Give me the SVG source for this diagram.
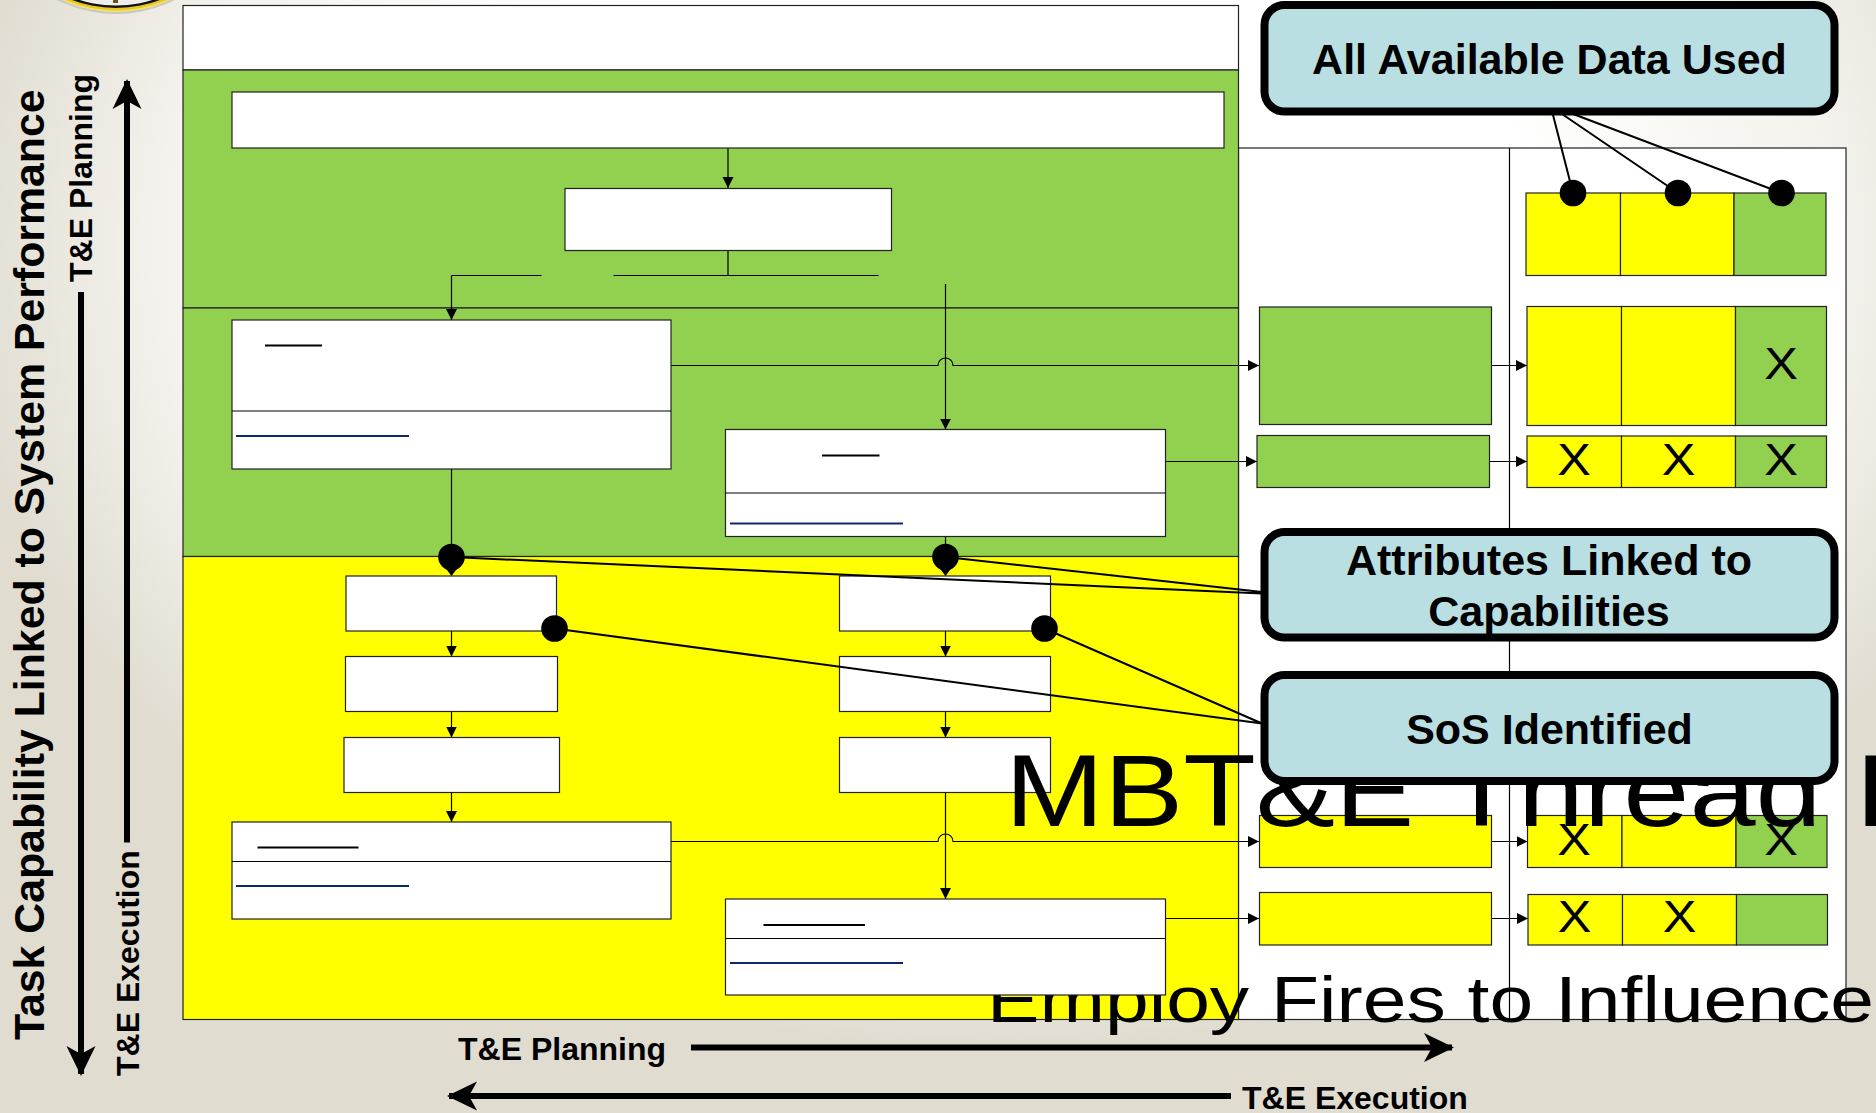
<svg xmlns="http://www.w3.org/2000/svg" width="1876" height="1113" viewBox="0 0 1876 1113">
<style>
.t{font-family:"Liberation Sans",Arial,sans-serif}
.b{font-weight:700;fill:#000}
.c{font-size:43px;text-anchor:middle}
.s{font-size:32px}
.big{font-weight:400;fill:#000}
.x{font-family:"Liberation Sans",Arial,sans-serif;font-size:45px;text-anchor:middle;fill:#000}
.w{fill:#fff;stroke:#222;stroke-width:1.2}
.g{fill:#92D050;stroke:#222;stroke-width:1.2}
.y{fill:#FF0;stroke:#222;stroke-width:1.2}
.l{fill:none;stroke:#000;stroke-width:1.2}
.a{fill:none;stroke:#000;stroke-width:1.2;marker-end:url(#tri)}
.u{stroke:#000;stroke-width:2}
.n{stroke:#0B2A6B;stroke-width:2}
.co{fill:#B9DFE2;stroke:#000;stroke-width:8}
.cl{stroke:#000;stroke-width:2;fill:none}
.th{fill:none;stroke:#000;stroke-width:6}
.dot{fill:#000}
</style>
<defs>
<radialGradient id="bg" gradientUnits="userSpaceOnUse" cx="0" cy="0" r="1" gradientTransform="translate(1000 250) scale(1050 800)">
<stop offset="0.5" stop-color="#fff"/>
<stop offset="0.8" stop-color="#f3f2ec"/>
<stop offset="1" stop-color="#e0dcd0"/>
</radialGradient>
<marker id="tri" markerUnits="userSpaceOnUse" markerWidth="11" markerHeight="12" refX="11" refY="6" orient="auto"><path d="M0 0.5L11 6L0 11.5Z" fill="#000"/></marker>
<marker id="st" markerUnits="userSpaceOnUse" markerWidth="32" markerHeight="32" refX="28" refY="15" orient="auto"><path d="M0 0.5L30 15L0 29.5L8 15Z" fill="#000"/></marker>
</defs>
<rect width="1876" height="1113" fill="url(#bg)"/>
<g id="seal">
<circle cx="116" cy="-117" r="131" fill="#c9c8c2"/>
<circle cx="116" cy="-117" r="129" fill="#f3e27a"/>
<circle cx="116" cy="-117" r="127.5" fill="#e8c91c"/>
<circle cx="116" cy="-117" r="125" fill="#111"/>
<circle cx="116" cy="-117" r="122.5" fill="#eee"/>
<rect x="113" y="0" width="5" height="3" fill="#6a5210"/>
</g>
<g id="bands">
<rect class="w" x="183" y="5.500" width="1055.500" height="64.500"/>
<rect x="1238.500" y="148" width="607.500" height="871.500" class="w"/>
<line class="l" x1="1509.500" y1="148" x2="1509.500" y2="1019.500"/>
<rect class="g" x="183" y="70" width="1055.500" height="238"/>
<rect class="g" x="183" y="308" width="1055.500" height="248.500"/>
<rect class="y" x="183" y="556.500" width="1055.500" height="463"/>
</g>
<text id="subtitle" class="t big" font-size="65" transform="translate(987 1022) scale(1.21 1)">Employ Fires to Influence</text>
<g id="connectors">
<line class="a" x1="728" y1="147.500" x2="728" y2="188"/>
<path class="l" d="M728 250.500V275.500M613.500 275.500H878.500M541.500 275.500H451.500"/>
<path class="a" d="M451.500 275.500V320"/>
<path class="l" d="M451.500 469V545"/>
<path class="a" d="M945.500 284V429.500"/>
<path class="l" d="M945.500 536.500V545"/>
<path class="a" d="M671 365.500H938a7.500 7.500 0 0 1 15 0H1259"/>
<line class="a" x1="1165.500" y1="461.500" x2="1257" y2="461.500"/>
<line class="a" x1="1491.500" y1="365.500" x2="1527" y2="365.500"/>
<line class="a" x1="1489.500" y1="461.500" x2="1527" y2="461.500"/>
<line class="a" x1="451.500" y1="631" x2="451.500" y2="656.500"/>
<line class="a" x1="451.500" y1="711.500" x2="451.500" y2="737.500"/>
<line class="a" x1="451.500" y1="792.500" x2="451.500" y2="822"/>
<line class="a" x1="945.500" y1="631" x2="945.500" y2="656.500"/>
<line class="a" x1="945.500" y1="711.500" x2="945.500" y2="737.500"/>
<path class="a" d="M945.500 792.500V899"/>
<path class="a" d="M671 841.500H938a7.500 7.500 0 0 1 15 0H1259"/>
<line class="a" x1="1165.500" y1="918.500" x2="1259" y2="918.500"/>
<line class="a" x1="1491.500" y1="841.500" x2="1527.500" y2="841.500"/>
<line class="a" x1="1491.500" y1="918.500" x2="1528" y2="918.500"/>
</g>
<g id="n-top"><rect class="w" x="232" y="92" width="992" height="56"/></g>
<g id="n-mid"><rect class="w" x="565" y="188.500" width="326.500" height="62"/></g>
<g id="n-c1"><rect class="w" x="232" y="320" width="439" height="149"/><line class="l" x1="232" y1="411" x2="671" y2="411" stroke-width="2"/><line class="u" x1="265" y1="345.500" x2="322" y2="345.500"/><line class="n" x1="236" y1="436" x2="409" y2="436"/></g>
<g id="n-c2"><rect class="w" x="725.500" y="429.500" width="440" height="107"/><line class="l" x1="725.500" y1="493" x2="1165.500" y2="493"/><line class="u" x1="822" y1="455.500" x2="879.500" y2="455.500"/><line class="n" x1="730" y1="523.500" x2="903" y2="523.500"/></g>
<g id="n-l1"><rect class="w" x="346" y="576" width="210.500" height="55"/></g>
<g id="n-l2"><rect class="w" x="345.500" y="656.500" width="212" height="55"/></g>
<g id="n-l3"><rect class="w" x="344" y="737.500" width="215.500" height="55"/></g>
<g id="n-r1"><rect class="w" x="839.500" y="576" width="211" height="55"/></g>
<g id="n-r2"><rect class="w" x="839.500" y="656.500" width="211" height="55"/></g>
<g id="n-r3"><rect class="w" x="839.500" y="737.500" width="211" height="55"/></g>
<g id="n-d1"><rect class="w" x="232" y="822" width="439" height="97"/><line class="l" x1="232" y1="861.500" x2="671" y2="861.500"/><line class="u" x1="257.500" y1="847.500" x2="358.500" y2="847.500"/><line class="n" x1="236" y1="886" x2="409" y2="886"/></g>
<g id="n-d2"><rect class="w" x="725.500" y="899" width="440" height="96"/><line class="l" x1="725.500" y1="938.500" x2="1165.500" y2="938.500"/><line class="u" x1="763.500" y1="925" x2="865" y2="925"/><line class="n" x1="730" y1="963" x2="903" y2="963"/></g>
<g id="n-g1"><rect class="g" x="1259.500" y="307" width="232" height="117.500"/></g>
<g id="n-g2"><rect class="g" x="1257" y="435.500" width="232.500" height="52"/></g>
<g id="n-y1"><rect class="y" x="1259.500" y="815.500" width="232" height="52"/></g>
<g id="n-y2"><rect class="y" x="1259.500" y="892.500" width="232" height="52.500"/></g>
<g id="row-1"><rect class="y" x="1526" y="193" width="94.500" height="82.500"/><rect class="y" x="1620.500" y="193" width="113.500" height="82.500"/><rect class="g" x="1734" y="193" width="92" height="82.500"/></g>
<g id="row-2"><rect class="y" x="1527" y="306.500" width="94.500" height="119"/><rect class="y" x="1621.500" y="306.500" width="114" height="119"/><rect class="g" x="1735.500" y="306.500" width="91" height="119"/><text class="x" transform="translate(1781 378.500) scale(1.12 1)">X</text></g>
<g id="row-3"><rect class="y" x="1527" y="436" width="94.500" height="51.500"/><rect class="y" x="1621.500" y="436" width="114" height="51.500"/><rect class="g" x="1735.500" y="436" width="91" height="51.500"/><text class="x" transform="translate(1574 474.500) scale(1.12 1)">X</text><text class="x" transform="translate(1678.500 474.500) scale(1.12 1)">X</text><text class="x" transform="translate(1781 474.500) scale(1.12 1)">X</text></g>
<g id="row-4"><rect class="y" x="1527.500" y="815.500" width="94.500" height="52"/><rect class="y" x="1622" y="815.500" width="114" height="52"/><rect class="g" x="1736" y="815.500" width="91" height="52"/><text class="x" transform="translate(1574 854.500) scale(1.12 1)">X</text><text class="x" transform="translate(1781 854.500) scale(1.12 1)">X</text></g>
<g id="row-5"><rect class="y" x="1528" y="894.500" width="94.500" height="50.500"/><rect class="y" x="1622.500" y="894.500" width="114" height="50.500"/><rect class="g" x="1736.500" y="894.500" width="91" height="50.500"/><text class="x" transform="translate(1574.500 932) scale(1.12 1)">X</text><text class="x" transform="translate(1679.500 932) scale(1.12 1)">X</text></g>
<text id="title" class="t big" font-size="102" transform="translate(1005 825.500) scale(1.165 1)">MBT&amp;E  Thread I</text>
<g id="callout-connectors">
<path class="cl" d="M1552.500 113L1573 193M1560.500 113L1678 193M1570.500 113L1781.500 193"/>
<path class="cl" d="M451.500 557L1262 593.500M945.500 557L1262 592"/>
<path class="cl" d="M554.500 628.500L1262 723.500M1044.500 628.500L1262 723.500"/>
<circle class="dot" cx="1573" cy="193" r="13.300"/><circle class="dot" cx="1678" cy="193" r="13.300"/><circle class="dot" cx="1781.500" cy="193" r="13.300"/>
<circle class="dot" cx="451.500" cy="557" r="13.300"/><path class="dot" d="M444 566L451.500 576L459 566Z"/>
<circle class="dot" cx="945.500" cy="557" r="13.300"/><path class="dot" d="M938 566L945.500 576L953 566Z"/>
<circle class="dot" cx="554.500" cy="628.500" r="13.300"/><circle class="dot" cx="1044.500" cy="628.500" r="13.300"/>
</g>
<g id="callout-data"><rect class="co" x="1264.500" y="5" width="570" height="106.500" rx="20"/><text class="t b c" x="1549.500" y="74">All Available Data Used</text></g>
<g id="callout-attr"><rect class="co" x="1264.500" y="532" width="570" height="105.500" rx="20"/><text class="t b c" x="1549" y="574.500">Attributes Linked to</text><text class="t b c" x="1549" y="626">Capabilities</text></g>
<g id="callout-sos"><rect class="co" x="1264.500" y="675" width="570" height="106" rx="20"/><text class="t b c" x="1549.500" y="744">SoS Identified</text></g>
<g id="axes">
<text class="t b" font-size="42.800" transform="translate(43.500 1040) rotate(-90)">Task Capability Linked to System Performance</text>
<text class="t b s" transform="translate(91.500 282) rotate(-90)">T&amp;E Planning</text>
<text class="t b s" transform="translate(138.500 1076) rotate(-90)">T&amp;E Execution</text>
<line class="th" x1="81" y1="292" x2="81" y2="1074" marker-end="url(#st)"/>
<line class="th" x1="127" y1="842.500" x2="127" y2="81" marker-end="url(#st)"/>
<text class="t b s" x="458" y="1060">T&amp;E Planning</text>
<text class="t b s" x="1242" y="1109">T&amp;E Execution</text>
<line class="th" x1="691" y1="1047.500" x2="1452" y2="1047.500" marker-end="url(#st)"/>
<line class="th" x1="1231" y1="1096" x2="449" y2="1096" marker-end="url(#st)"/>
</g>
</svg>
